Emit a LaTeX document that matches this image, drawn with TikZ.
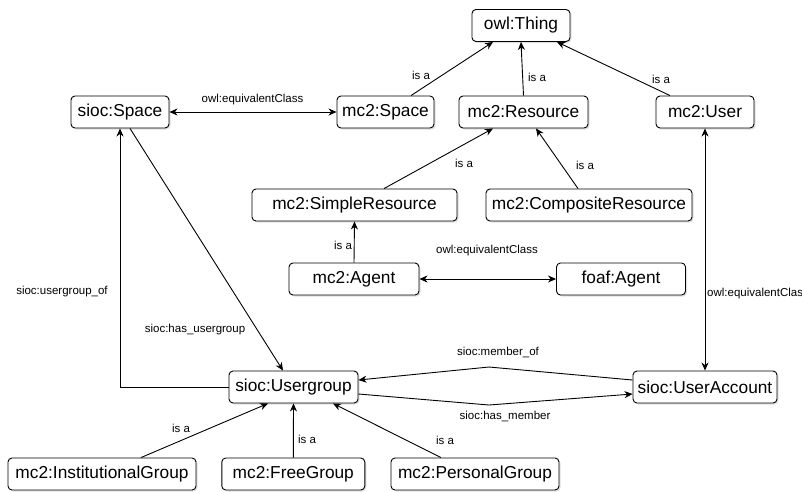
\documentclass[tikz,border=0pt]{standalone}
\usepackage{fontspec}
\setmainfont{Liberation Sans}
\usetikzlibrary{arrows.meta,shadows}
\tikzstyle{diagram} = [x = 1pt, y = -1pt]
\tikzstyle{classStyle} = [draw=black, fill=white, rounded corners = 4pt, line width = 0.9pt, minimum height = 32pt, inner sep = 0pt, font=\fontsize{17.3}{20}\selectfont, drop shadow={shadow xshift=1.5pt, shadow yshift=-1.5pt, opacity=0.25}]
\tikzstyle{relationLine} = [line width = 0.9pt, -{Stealth[length=8pt, width=7pt, inset=2.5pt]}]
\tikzstyle{bothWays} = [line width = 0.9pt, {Stealth[length=8pt, width=7pt, inset=2.5pt]}-{Stealth[length=8pt, width=7pt, inset=2.5pt]}]
\tikzstyle{edgeLabel} = [font=\fontsize{11.5}{13}\selectfont, inner sep = 0pt]
\newcommand{\classBox}[5]{\node [classStyle, minimum width = #4pt] (#1) at (#2, #3) {#5};}
\newcommand{\relationText}[4]{\node [edgeLabel] (#1) at (#2, #3) {#4};}

\begin{document}
\begin{tikzpicture}[diagram]
  \useasboundingbox (0, 0) rectangle (802, 491);

  \classBox{owlThing}{521}{25.5}{98}{owl:Thing}
  \classBox{siocSpace}{120}{112}{98}{sioc:Space}
  \classBox{mcSpace}{385.5}{112}{97}{mc2:Space}
  \classBox{mcResource}{523.5}{112}{129}{mc2:Resource}
  \classBox{mcUser}{705}{112}{98}{mc2:User}
  \classBox{simpleResource}{354.5}{205}{205}{mc2:SimpleResource}
  \classBox{compositeResource}{589}{205}{206}{mc2:CompositeResource}
  \classBox{mcAgent}{354}{279}{130}{mc2:Agent}
  \classBox{foafAgent}{621}{279}{129}{foaf:Agent}
  \classBox{siocUsergroup}{293.5}{387}{129}{sioc:Usergroup}
  \classBox{userAccount}{705}{387}{144}{sioc:UserAccount}
  \classBox{institutionalGroup}{102}{474}{188}{mc2:InstitutionalGroup}
  \classBox{freeGroup}{293.3}{474}{143}{mc2:FreeGroup}
  \classBox{personalGroup}{475}{474}{168}{mc2:PersonalGroup}

  \coordinate (memberOfBend) at (489, 367);
  \coordinate (hasMemberBend) at (489, 405);

  \draw [relationLine] ([xshift=25.5pt]mcSpace.north) -- ([xshift=-28pt]owlThing.south);
  \draw [relationLine] (mcResource.north) -- (owlThing.south);
  \draw [relationLine] ([xshift=-35pt]mcUser.north) -- ([xshift=36pt]owlThing.south);
  \draw [relationLine] ([xshift=29.5pt]simpleResource.north) -- ([xshift=-30.5pt]mcResource.south);
  \draw [relationLine] ([xshift=-11pt]compositeResource.north) -- ([xshift=12.5pt]mcResource.south);
  \draw [relationLine] (mcAgent.north) -- (simpleResource.south);
  \draw [bothWays] (siocSpace.east) -- (mcSpace.west);
  \draw [bothWays] (mcAgent.east) -- (foafAgent.west);
  \draw [bothWays] (mcUser.south) -- (userAccount.north);
  \draw [relationLine] ([xshift=10pt]siocSpace.south) -- ([xshift=-10.5pt]siocUsergroup.north);
  \draw [relationLine] (siocUsergroup.west) -| (siocSpace.south);
  \draw [relationLine] ([yshift=7pt]userAccount.west) -- (memberOfBend) -- ([yshift=7pt]siocUsergroup.east);
  \draw [relationLine] ([yshift=-7pt]siocUsergroup.east) -- (hasMemberBend) -- ([yshift=-7pt]userAccount.west);
  \draw [relationLine] ([xshift=39pt]institutionalGroup.north) -- ([xshift=-25.5pt]siocUsergroup.south);
  \draw [relationLine] (freeGroup.north) -- (siocUsergroup.south);
  \draw [relationLine] ([xshift=-34pt]personalGroup.north) -- ([xshift=39.5pt]siocUsergroup.south);

  \relationText{spaceEquivText}{252.5}{100}{owl:equivalentClass}
  \relationText{spaceIsA}{421}{75}{is a}
  \relationText{resourceIsA}{537}{77}{is a}
  \relationText{userIsA}{661}{79}{is a}
  \relationText{simpleIsA}{464}{163}{is a}
  \relationText{compositeIsA}{585}{165}{is a}
  \relationText{agentIsA}{343}{245}{is a}
  \relationText{agentEquivText}{487}{251}{owl:equivalentClass}
  \node [edgeLabel, anchor=west] (userEquivText) at (707, 294) {owl:equivalentClass};
  \relationText{usergroupOfText}{62}{292}{sioc:usergroup\_of}
  \relationText{hasUsergroupText}{195}{330}{sioc:has\_usergroup}
  \relationText{memberOfText}{498}{352}{sioc:member\_of}
  \relationText{hasMemberText}{505}{416}{sioc:has\_member}
  \relationText{institutionalIsA}{181}{428}{is a}
  \relationText{freeIsA}{307}{439}{is a}
  \relationText{personalIsA}{445}{440}{is a}
\end{tikzpicture}
\end{document}
